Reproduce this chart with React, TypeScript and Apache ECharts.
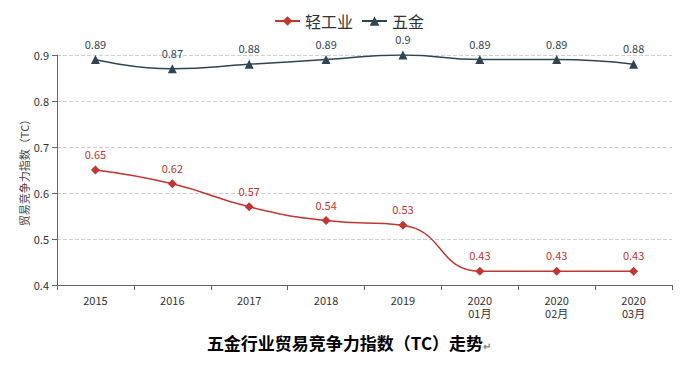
import React, { useEffect, useRef } from "react";
import * as echarts from "echarts";

const categories = ["2015", "2016", "2017", "2018", "2019", "2020\n01月", "2020\n02月", "2020\n03月"];
const lightIndustry = [0.65, 0.62, 0.57, 0.54, 0.53, 0.43, 0.43, 0.43];
const hardware = [0.89, 0.87, 0.88, 0.89, 0.9, 0.89, 0.89, 0.88];
const seriesNames = ["轻工业", "五金"];
const titleText = "五金行业贸易竞争力指数（TC）走势";
const yAxisName = "贸易竞争力指数（TC）";

export default function App() {
  const ref = useRef<HTMLDivElement>(null);
  useEffect(() => {
    const chart = echarts.init(ref.current!, null, { renderer: "svg" });
    const font = "'Microsoft YaHei', 'Noto Sans CJK SC', sans-serif";
    chart.setOption({
      animation: false,
      backgroundColor: "#fff",
      textStyle: { fontFamily: font },
      title: {
        text: titleText + "{m|↵}",
        left: "center",
        top: 328,
        textStyle: {
          fontFamily: "'Noto Sans CJK SC', serif",
          fontSize: 17,
          fontWeight: "bold",
          color: "#000",
          rich: { m: { fontSize: 10, color: "#888", padding: [8, 0, 0, 0] } },
        },
      },
      legend: {
        top: 8,
        left: "center",
        itemWidth: 25,
        itemHeight: 12,
        itemGap: 8,
        textStyle: { fontSize: 16, color: "#333", fontFamily: font },
        data: seriesNames,
      },
      grid: { left: 57, right: 26, top: 55, bottom: 88 },
      xAxis: {
        type: "category",
        data: categories,
        boundaryGap: true,
        axisLine: { lineStyle: { color: "#666" } },
        axisTick: { show: true, lineStyle: { color: "#666" } },
        axisLabel: { color: "#333", fontSize: 11, lineHeight: 13, margin: 8 },
        splitLine: { show: false },
      },
      yAxis: {
        type: "value",
        min: 0.4,
        max: 0.9,
        interval: 0.1,
        name: yAxisName,
        nameLocation: "middle",
        nameRotate: 90,
        nameGap: 28,
        nameMoveOverlap: false,
        nameTextStyle: { fontSize: 11, color: "#444" },
        axisLine: { show: true, lineStyle: { color: "#666" } },
        axisTick: { show: true, lineStyle: { color: "#666" } },
        axisLabel: {
          color: "#333",
          fontSize: 11,
          formatter: (v: number) => String(Math.round(v * 10) / 10),
        },
        splitLine: { show: true, lineStyle: { color: "#d0d0d0", type: "dashed" } },
      },
      series: [
        {
          name: seriesNames[0],
          type: "line",
          smooth: true,
          data: lightIndustry,
          symbol: "diamond",
          symbolSize: 9,
          itemStyle: { color: "#c23531" },
          lineStyle: { color: "#c23531", width: 1.5 },
          label: { show: true, position: "top", color: "#c23531", fontSize: 11, distance: 6 },
        },
        {
          name: seriesNames[1],
          type: "line",
          smooth: true,
          data: hardware,
          symbol: "triangle",
          symbolSize: 9,
          itemStyle: { color: "#2f4554" },
          lineStyle: { color: "#2f4554", width: 1.5 },
          label: { show: true, position: "top", color: "#2f4554", fontSize: 11, distance: 6 },
        },
      ],
    });
    return () => chart.dispose();
  }, []);
  return (
    <div
      ref={ref}
      style={{ position: "fixed", left: 0, top: 0, width: 698, height: 373 }}
    />
  );
}
